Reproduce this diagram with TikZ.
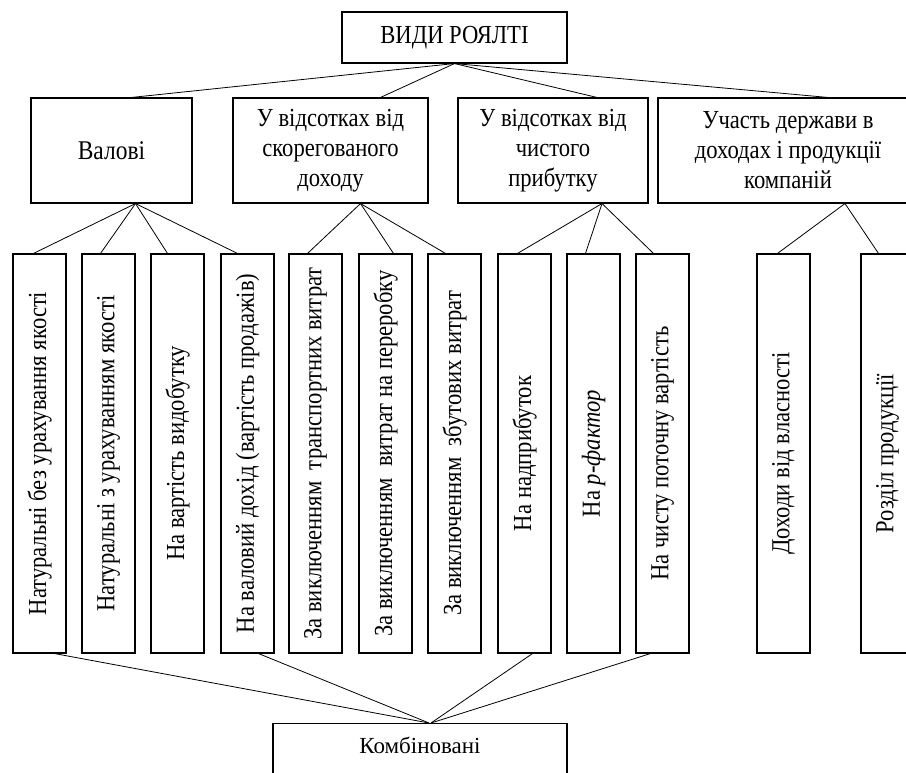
\documentclass[tikz,border=0pt]{standalone}
\usepackage{fontspec}
\usepackage{graphicx}
\setmainfont{Liberation Serif}
\newfontfamily\serifnarrow[FakeStretch=0.87]{Liberation Serif}
\newcommand{\headfont}{\serifnarrow\fontsize{26}{30}\selectfont}
\newcommand{\groupfont}{\serifnarrow\fontsize{26}{30}\selectfont}
\newcommand{\kindfont}{\serifnarrow\fontsize{26}{30}\selectfont}
\newcommand{\uptext}[1]{\rotatebox{90}{#1}}

\begin{document}
\begin{tikzpicture}[x=1pt,y=-1pt,line width=0.9pt,
  box/.style={draw,line width=1.1pt,inner sep=0pt,align=center},
  headbox/.style={box,font=\headfont},
  groupbox/.style={box,minimum height=105,font=\groupfont},
  kindbox/.style={box,minimum width=53,minimum height=399,font=\kindfont},
  link/.style={line width=0.8pt}]
\useasboundingbox (0,0) rectangle (906,773);
\clip (0,0) rectangle (906,773);

% top and group boxes
\node[headbox,minimum width=225,minimum height=51] (top) at (454.5,37.5) {ВИДИ РОЯЛТІ};
\node[groupbox,minimum width=161,font=\serifnarrow\fontsize{27}{30}\selectfont] (gross) at (111.5,150.5) {Валові};
\node[groupbox,minimum width=195] (adjusted) at (330.5,150.5) {У відсотках від\\скорегованого\\доходу};
\node[groupbox,minimum width=190] (netprofit) at (553,150.5) {У відсотках від\\чистого\\прибутку};
\node[groupbox,minimum width=260] (state) at (788,150.5) {Участь держави в\\доходах і продукції\\компаній};

% kinds
\node[kindbox] (k1) at (39.5,453.5) {\uptext{Натуральні без урахування якості}};
\node[kindbox] (k2) at (108.5,453.5) {\uptext{Натуральні з урахуванням якості}};
\node[kindbox] (k3) at (177.5,453.5) {\uptext{На вартість видобутку}};
\node[kindbox] (k4) at (247.5,453.5) {\uptext{На валовий дохід (вартість продажів)}};
\node[kindbox] (k5) at (315.5,453.5) {\uptext{За виключенням\ \ транспортних витрат}};
\node[kindbox] (k6) at (385.5,453.5) {\uptext{За виключенням\ \ витрат на переробку}};
\node[kindbox] (k7) at (454.5,453.5) {\uptext{За виключенням\ \ збутових витрат}};
\node[kindbox] (k8) at (524.5,453.5) {\uptext{На надприбуток}};
\node[kindbox] (k9) at (593.5,453.5) {\uptext{На \textit{р-фактор}}};
\node[kindbox] (k10) at (662.5,453.5) {\uptext{На чисту поточну вартість}};
\node[kindbox] (k11) at (783.5,453.5) {\uptext{Доходи від власності}};
\node[kindbox] (k12) at (887.5,453.5) {\uptext{Розділ продукції}};

\node[box,anchor=north,minimum width=294,text height=30,text depth=40,inner ysep=0pt,
  font=\fontsize{23}{28}\selectfont] (combined) at (420,723) {Комбіновані};

% links
\draw[link] (top.south) -- ([xshift=20]gross.north);
\draw[link] (top.south) -- ([xshift=50]adjusted.north);
\draw[link] (top.south) -- ([xshift=44]netprofit.north);
\draw[link] (top.south) -- ([xshift=40]state.north);

\draw[link] ([xshift=24]gross.south) -- ([xshift=-6]k1.north);
\draw[link] ([xshift=24]gross.south) -- ([xshift=-8]k2.north);
\draw[link] ([xshift=24]gross.south) -- ([xshift=-10]k3.north);
\draw[link] ([xshift=24]gross.south) -- ([xshift=-10]k4.north);
\draw[link] ([xshift=30]adjusted.south) -- ([xshift=-8]k5.north);
\draw[link] ([xshift=30]adjusted.south) -- ([xshift=8]k6.north);
\draw[link] ([xshift=30]adjusted.south) -- ([xshift=-9]k7.north);
\draw[link] ([xshift=49]netprofit.south) -- ([xshift=-7]k8.north);
\draw[link] ([xshift=49]netprofit.south) -- ([xshift=-8]k9.north);
\draw[link] ([xshift=49]netprofit.south) -- ([xshift=-9]k10.north);
\draw[link] ([xshift=57]state.south) -- ([xshift=-6]k11.north);
\draw[link] ([xshift=57]state.south) -- ([xshift=-9]k12.north);

\draw[link] ([xshift=15]k1.south) -- ([xshift=9]combined.north);
\draw[link] ([xshift=11]k4.south) -- ([xshift=9]combined.north);
\draw[link] ([xshift=8]k8.south) -- ([xshift=11]combined.north);
\draw[link] ([xshift=-12]k10.south) -- ([xshift=11]combined.north);
\end{tikzpicture}
\end{document}
